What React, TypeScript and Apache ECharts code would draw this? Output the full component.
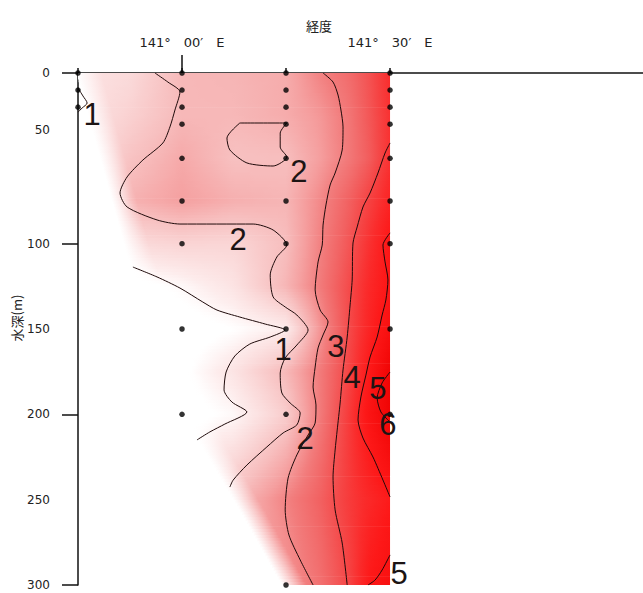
import React, { useEffect, useRef } from 'react';
import * as echarts from 'echarts';

// ---- stations (sample points) ----
const stationLons = [140.75, 141.0, 141.25, 141.5];
const stationDepths = [
  [0, 10, 20],
  [0, 10, 20, 30, 50, 75, 100, 150, 200],
  [0, 10, 20, 30, 50, 75, 100, 150, 200, 300],
  [0, 10, 20, 30, 50, 75, 100, 150, 200],
];

// ---- field values read from the shading (lon columns x depth rows) ----
const fieldLons = [140.75, 140.875, 141.0, 141.125, 141.25, 141.33, 141.4, 141.45, 141.5];
const fieldDepths = [0, 25, 50, 75, 100, 125, 150, 175, 200, 250, 300];
const fieldValues = [
  [1.2, 1.4, 2.1, 2.15, 2.3, 2.9, 3.3, 3.8, 4.5],
  [1.2, 1.6, 2.1, 2.1, 2.3, 2.6, 3.1, 3.7, 4.4],
  [1.1, 1.9, 2.35, 1.95, 2.0, 2.5, 3.05, 3.6, 4.4],
  [1.0, 2.2, 2.5, 2.25, 2.15, 2.8, 3.5, 4.1, 4.7],
  [0.8, 1.4, 1.55, 1.5, 2.0, 2.9, 3.7, 4.4, 5.1],
  [0.5, 0.5, 0.8, 1.2, 2.15, 3.0, 3.9, 4.6, 5.1],
  [0.3, 0.4, 0.5, 0.7, 1.0, 2.6, 3.9, 4.7, 5.4],
  [0.3, 0.4, 0.6, 1.2, 2.1, 3.0, 4.0, 5.0, 6.0],
  [0.3, 0.4, 0.5, 0.8, 1.7, 3.0, 4.2, 5.2, 6.0],
  [0.5, 1.0, 1.5, 2.0, 2.9, 3.5, 4.2, 4.6, 4.95],
  [1.0, 1.5, 2.0, 2.3, 2.6, 3.2, 4.0, 5.0, 5.4],
];

// left (sea-floor side) edge of the shaded area: [lon, depth]
const maskEdge = [
  [140.75, 0], [140.75, 2.9], [140.808, 53.9], [140.868, 106.6],
  [141.043, 216.8], [141.139, 256], [141.243, 301],
];

// ---- contour lines [lon, depth] ----
const contour1a = [[140.75, 8.8], [140.762, 13.5], [140.772, 17.6], [140.76, 20.5], [140.75, 22.9]];
const contour1b = [
  [140.882, 113.7], [140.94, 119.5], [140.995, 126], [141.05, 134.2], [141.084, 138.9],
  [141.139, 143], [141.2, 147.1], [141.248, 150.6], [141.212, 154.7], [141.163, 158.8],
  [141.127, 165.8], [141.106, 175.2], [141.101, 185.7], [141.12, 192.8], [141.156, 198.6],
  [141.103, 205.7], [141.067, 210.3], [141.036, 215],
];
const contour2a = [
  [140.935, 0], [140.966, 5.3], [140.995, 11.1], [140.983, 21.7], [140.971, 31.6],
  [140.954, 41], [140.906, 51], [140.868, 60.9], [140.851, 70.3], [140.868, 78.5],
  [140.94, 86.1], [140.995, 88.5], [141.171, 88.5], [141.219, 92], [141.252, 100.8],
  [141.228, 107.8], [141.212, 118.4], [141.219, 131.2], [141.248, 137.1], [141.276, 141.8],
  [141.303, 150.6], [141.276, 159.4], [141.248, 167], [141.236, 175.8], [141.24, 187.5],
  [141.26, 193.4], [141.284, 199.2], [141.276, 206.2], [141.243, 210.9], [141.204, 219.1],
  [141.156, 229.7], [141.123, 238.5], [141.115, 242.6],
];
const contour2b = [
  [141.139, 29.3], [141.252, 29.3], [141.236, 35.2], [141.236, 43.4], [141.252, 49.2],
  [141.219, 54.5], [141.156, 52.7], [141.115, 45.1], [141.108, 38.1], [141.139, 29.3],
];
const contour3 = [
  [141.339, 0], [141.363, 5.3], [141.375, 12.9], [141.382, 21.7], [141.387, 31.6],
  [141.385, 45.1], [141.368, 58.6], [141.356, 65.6], [141.346, 77.3], [141.339, 89.1],
  [141.337, 100.8], [141.327, 110.7], [141.32, 127.1], [141.332, 138.9], [141.351, 145.9],
  [141.339, 153.5], [141.327, 161.1], [141.32, 172.3], [141.315, 184], [141.322, 194.5],
  [141.32, 205.1], [141.303, 212.1], [141.276, 223.8], [141.255, 237.3], [141.248, 256],
  [141.257, 270.7], [141.284, 285.3], [141.315, 300],
];
const contour4 = [
  [141.5, 41], [141.488, 46.9], [141.471, 58.6], [141.452, 70.3], [141.435, 78.5],
  [141.421, 90.2], [141.411, 99.6], [141.409, 121.3], [141.404, 135.9], [141.397, 154.7],
  [141.387, 174], [141.38, 193.4], [141.373, 209.2], [141.368, 220.9], [141.363, 236.7],
  [141.368, 256], [141.385, 275.4], [141.397, 300],
];
const contour5a = [
  [141.5, 93.7], [141.483, 100.8], [141.488, 110.7], [141.495, 121.3], [141.49, 133],
  [141.481, 141.8], [141.469, 154.7], [141.452, 166.4], [141.442, 177], [141.43, 189.8],
  [141.423, 203.3], [141.435, 213.9], [141.459, 225], [141.483, 238.5], [141.5, 248.4],
];
const contour6 = [[141.5, 175.2], [141.481, 181.6], [141.469, 190.4], [141.478, 198.6], [141.5, 204.5]];
const contour5b = [[141.5, 282.4], [141.481, 291.2], [141.464, 297.1], [141.447, 300]];
const contours = [contour1a, contour1b, contour2a, contour2b, contour3, contour4, contour5a, contour6, contour5b];

// contour labels [lon, depth, text]
const contourLabels: [number, number, string][] = [
  [140.784, 24.6, '1'], [141.281, 58, '2'], [141.135, 97.8, '2'], [141.243, 162.3, '1'],
  [141.37, 160.5, '3'], [141.409, 178.7, '4'], [141.471, 184.6, '5'], [141.495, 206.2, '6'],
  [141.296, 213.9, '2'], [141.522, 293, '5'],
];

// ---- axes ----
const lonTickValues = [140.75, 141.0, 141.25, 141.5];
const lonLabelValues = [141.0, 141.5];
const lonLabelTexts = ['141°\u300000′\u3000E', '141°\u300030′\u3000E'];
const depthTickValues = [0, 100, 200, 300];
const depthLabelTexts = ['0', '50', '100', '150', '200', '250', '300'];
const depthLabelAt = [0, 33.4, 100, 150, 200, 250, 300];

// colour scale (value -> rgb)
const colorScale = [
  [0, 255, 255, 255], [0.7, 255, 255, 255], [1, 253, 236, 236], [1.5, 250, 214, 214],
  [2, 247, 190, 190], [2.5, 245, 160, 160], [3, 242, 124, 124], [3.5, 242, 98, 98],
  [4, 245, 70, 70], [4.5, 250, 44, 44], [5, 253, 24, 24], [6, 240, 4, 4],
];
const FADE_PX = 24;

function colorOf(v: number): number[] {
  if (v <= colorScale[0][0]) return colorScale[0].slice(1);
  for (let i = 1; i < colorScale.length; i++) {
    if (v <= colorScale[i][0]) {
      const a = colorScale[i - 1], b = colorScale[i];
      const t = (v - a[0]) / (b[0] - a[0]);
      return [1, 2, 3].map((k) => a[k] + (b[k] - a[k]) * t);
    }
  }
  return colorScale[colorScale.length - 1].slice(1);
}

function edgeAt(d: number): number {
  for (let i = 1; i < maskEdge.length; i++) {
    if (d <= maskEdge[i][1]) {
      const a = maskEdge[i - 1], b = maskEdge[i];
      const t = (d - a[1]) / (b[1] - a[1] || 1);
      return a[0] + (b[0] - a[0]) * t;
    }
  }
  return maskEdge[maskEdge.length - 1][0];
}

function interpAt(xs: number[], vs: number[], px: number): number {
  if (px <= xs[0]) return vs[0];
  for (let i = 1; i < xs.length; i++) {
    if (px <= xs[i]) {
      const t = (px - xs[i - 1]) / (xs[i] - xs[i - 1]);
      return vs[i - 1] + (vs[i] - vs[i - 1]) * t;
    }
  }
  return vs[vs.length - 1];
}

export default function App() {
  const ref = useRef<HTMLDivElement>(null);
  useEffect(() => {
    if (!ref.current) return;
    const chart = echarts.init(ref.current, undefined, { renderer: 'svg' });

    const fillSeries = {
      type: 'custom',
      silent: true,
      clip: true,
      z: 1,
      data: fieldDepths.slice(0, -1).map((d, i) => [fieldLons[0], d, i]),
      encode: { x: 0, y: 1 },
      renderItem: (params: any, api: any) => {
        const i = api.value(2);
        const d0 = fieldDepths[i], d1 = fieldDepths[i + 1];
        const yTop = api.coord([fieldLons[0], d0])[1];
        const yBot = api.coord([fieldLons[0], d1])[1];
        const xs = fieldLons.map((l) => api.coord([l, d0])[0]);
        const xRight = xs[xs.length - 1];
        const nSub = Math.max(1, Math.ceil((yBot - yTop) / 3));
        const children: any[] = [];
        for (let s = 0; s < nSub; s++) {
          const t = (s + 0.5) / nSub;
          const d = d0 + (d1 - d0) * t;
          const vals = fieldValues[i].map((v, j) => v + (fieldValues[i + 1][j] - v) * t);
          const xEdge = api.coord([edgeAt(d), d])[0];
          const w = xRight - xEdge;
          if (w <= 0.5) continue;
          const n = Math.max(2, Math.ceil(w / 5));
          const stops: any[] = [];
          for (let k = 0; k <= n; k++) {
            const px = xEdge + (w * k) / n;
            const c = colorOf(interpAt(xs, vals, px));
            const f = Math.min(1, (px - xEdge) / FADE_PX);
            const rgb = c.map((ch) => Math.round(255 + (ch - 255) * f));
            stops.push({ offset: k / n, color: `rgb(${rgb[0]},${rgb[1]},${rgb[2]})` });
          }
          const h = (yBot - yTop) / nSub;
          children.push({
            type: 'rect',
            shape: { x: xEdge, y: yTop + h * s, width: w, height: h + 0.7 },
            style: { fill: new echarts.graphic.LinearGradient(0, 0, 1, 0, stops) },
            silent: true,
          });
        }
        return { type: 'group', children };
      },
    };

    const lineSeries = contours.map((c) => ({
      type: 'line',
      data: c,
      showSymbol: false,
      symbol: 'none',
      smooth: 0.25,
      silent: true,
      z: 3,
      lineStyle: { color: '#1e0a0a', width: 1 },
    }));

    const dots: number[][] = [];
    stationLons.forEach((lon, i) => stationDepths[i].forEach((d) => dots.push([lon, d])));

    const labelSeries = {
      type: 'custom',
      silent: true,
      clip: false,
      z: 5,
      data: contourLabels.map((l) => [l[0], l[1]]),
      encode: { x: 0, y: 1 },
      renderItem: (params: any, api: any) => {
        const p = api.coord([api.value(0), api.value(1)]);
        return {
          type: 'text',
          x: p[0],
          y: p[1],
          style: {
            text: contourLabels[params.dataIndex][2],
            fontSize: 31,
            fontFamily: 'Liberation Sans',
            fill: '#1c1414',
            align: 'center',
            verticalAlign: 'middle',
          },
        };
      },
    };

    const axisLineStyle = { color: '#111', width: 1.5 };

    chart.setOption({
      animation: false,
      backgroundColor: '#fff',
      grid: { left: 78, right: 0, top: 73, bottom: 8, containLabel: false },
      graphic: [
        {
          type: 'text',
          left: 306,
          top: 19,
          style: { text: '経度', fontSize: 13, fontFamily: 'Noto Sans CJK JP', fill: '#222' },
        },
        {
          type: 'text',
          x: 16,
          y: 318,
          rotation: Math.PI / 2,
          style: {
            text: '水深(m)',
            fontSize: 13,
            fontFamily: 'Noto Sans CJK JP',
            fill: '#222',
            align: 'center',
            verticalAlign: 'middle',
          },
        },
      ],
      xAxis: [
        {
          type: 'value',
          position: 'top',
          min: 140.75,
          max: 142.108,
          axisLine: { show: true, onZero: false, lineStyle: axisLineStyle },
          axisTick: { show: true, customValues: lonTickValues, length: 5, lineStyle: axisLineStyle },
          axisLabel: {
            show: true,
            customValues: lonLabelValues,
            margin: 24,
            fontSize: 13,
            fontFamily: 'DejaVu Sans',
            color: '#222',
            formatter: (v: number) => lonLabelTexts[lonLabelValues.indexOf(v)] ?? '',
          },
          splitLine: { show: false },
        },
        {
          type: 'value',
          position: 'top',
          min: 140.75,
          max: 142.108,
          axisLine: { show: false, onZero: false },
          axisTick: { show: true, customValues: [141.0], length: 18, lineStyle: axisLineStyle },
          axisLabel: { show: false },
          splitLine: { show: false },
        },
      ],
      yAxis: {
        type: 'value',
        inverse: true,
        min: 0,
        max: 300,
        axisLine: { show: true, onZero: false, lineStyle: axisLineStyle },
        axisTick: { show: true, customValues: depthTickValues, length: 16, lineStyle: axisLineStyle },
        axisLabel: {
          show: true,
          customValues: depthLabelAt,
          margin: 28,
          fontSize: 12,
          fontFamily: 'DejaVu Sans',
          color: '#222',
          formatter: (v: number) => depthLabelTexts[depthLabelAt.indexOf(v)] ?? '',
        },
        splitLine: { show: false },
      },
      series: [
        fillSeries,
        ...lineSeries,
        {
          type: 'scatter',
          data: dots,
          symbolSize: 5.5,
          clip: false,
          silent: true,
          z: 4,
          itemStyle: { color: '#000' },
        },
        labelSeries,
      ],
    });
    return () => chart.dispose();
  }, []);
  return (
    <div
      ref={ref}
      style={{ position: 'fixed', left: 0, top: 0, width: 643, height: 593, background: '#fff' }}
    />
  );
}
